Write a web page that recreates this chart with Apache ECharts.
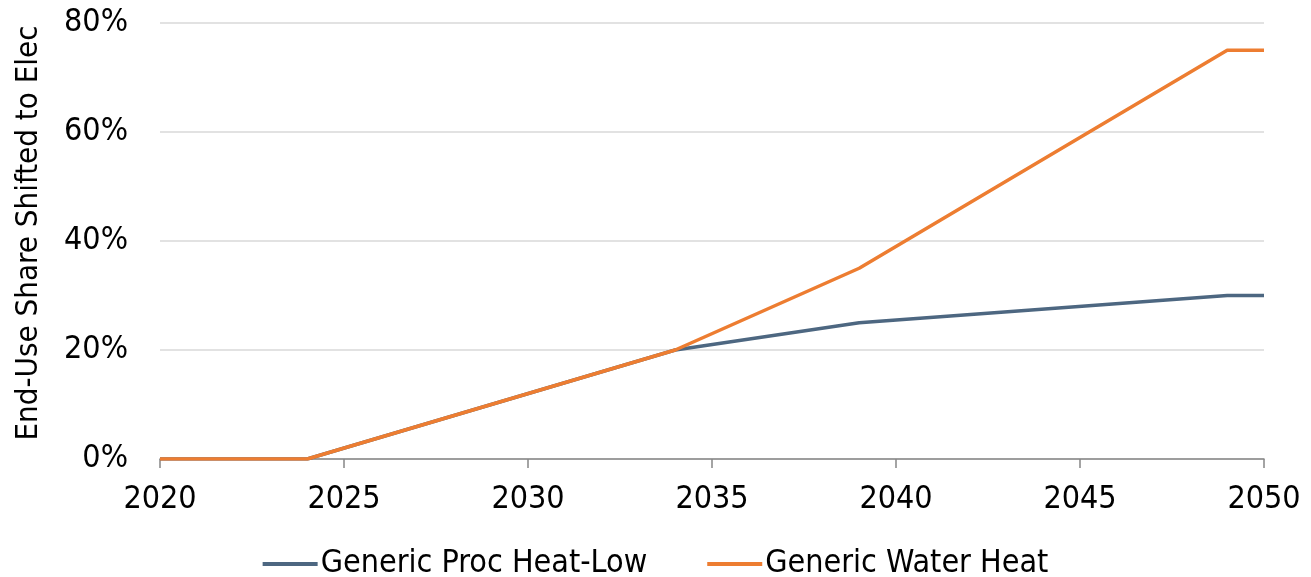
<!DOCTYPE html>
<html>
<head>
<meta charset="utf-8">
<title>End-Use Share Shifted to Elec</title>
<script src="https://cdn.jsdelivr.net/npm/echarts@6/dist/echarts.min.js"></script>
<style>
  html, body { margin: 0; padding: 0; background: #ffffff; }
  #chart { width: 1311px; height: 577px; }
</style>
</head>
<body>
<div id="chart"></div>
<script>
// Years where the adoption trajectories change slope
const years = [2020, 2024, 2034, 2039, 2049, 2050];
// Share of end-use shifted to electricity (%)
const procHeatLow = [0, 0, 20, 25, 30, 30];
const waterHeat = [0, 0, 20, 35, 75, 75];
const seriesNames = ['Generic Proc Heat-Low', 'Generic Water Heat'];
const yAxisTitle = 'End-Use Share Shifted to Elec';

const FONT = '"DejaVu Sans Condensed", "DejaVu Sans", sans-serif';
const FS = 32;
const pair = (vals) => years.map((y, i) => [y, vals[i]]);

const chart = echarts.init(document.getElementById('chart'));
chart.setOption({
  animation: false,
  backgroundColor: '#ffffff',
  textStyle: { fontFamily: FONT },
  grid: { left: 160, right: 47, top: 23, bottom: 118 },
  legend: {
    bottom: -8,
    left: 'center',
    itemWidth: 55,
    itemHeight: 4,
    itemGap: 60,
    icon: 'rect',
    textStyle: { fontFamily: FONT, fontSize: FS, color: '#000000', padding: [0, 0, 0, -2] },
    data: seriesNames
  },
  xAxis: {
    type: 'value',
    min: 2020,
    max: 2050,
    interval: 5,
    axisLine: { show: true, lineStyle: { color: '#868686', width: 1.5 } },
    axisTick: { show: true, length: 9, lineStyle: { color: '#868686', width: 1.5 } },
    splitLine: { show: false },
    axisLabel: { margin: 25, fontFamily: FONT, fontSize: FS, color: '#000000', formatter: (v) => String(v) }
  },
  yAxis: {
    type: 'value',
    min: 0,
    max: 80,
    interval: 20,
    name: yAxisTitle,
    nameLocation: 'middle',
    nameGap: 116,
    nameTextStyle: { fontFamily: FONT, fontSize: 31, color: '#000000', padding: [0, 0, 0, 16] },
    axisLine: { show: false },
    axisTick: { show: false },
    splitLine: { lineStyle: { color: '#d9d9d9', width: 1.5 } },
    axisLabel: { margin: 32, fontFamily: FONT, fontSize: FS, color: '#000000', formatter: '{value}%' }
  },
  series: [
    {
      name: seriesNames[0],
      type: 'line',
      data: pair(procHeatLow),
      showSymbol: false,
      lineStyle: { color: '#4d6781', width: 3.5 },
      itemStyle: { color: '#4d6781' }
    },
    {
      name: seriesNames[1],
      type: 'line',
      data: pair(waterHeat),
      showSymbol: false,
      lineStyle: { color: '#ed7d31', width: 3.5 },
      itemStyle: { color: '#ed7d31' }
    }
  ]
});
</script>
</body>
</html>
